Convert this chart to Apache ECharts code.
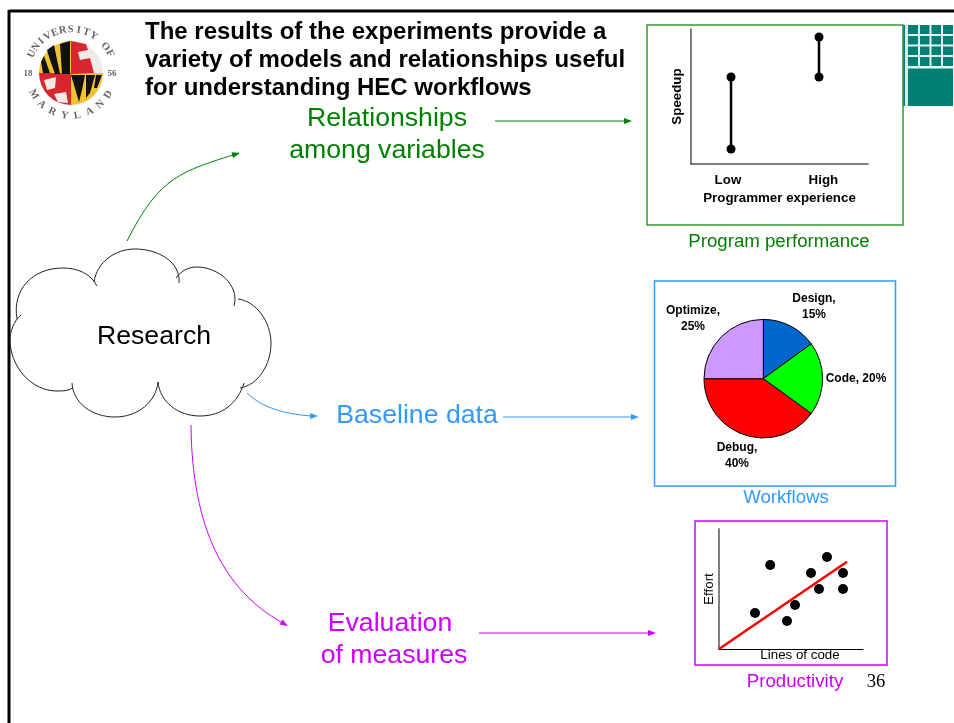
<!DOCTYPE html>
<html>
<head>
<meta charset="utf-8">
<title>Research results</title>
<script src="https://cdn.jsdelivr.net/npm/echarts@6/dist/echarts.min.js"></script>
<style>
  html, body { margin: 0; padding: 0; background: #fff; }
  #main { width: 954px; height: 723px; }
</style>
</head>
<body>
<div id="main"></div>
<script>
// speedup by programmer experience
var experienceX = [1, 2];
var experienceLabels = ['Low', 'High'];
var experienceLabelAt = [0.965, 2.05];
var lowSpeedup = [1.5, 8.7];
var highSpeedup = [8.7, 12.7];

// workflows
var workflowNames = ['Design', 'Code', 'Debug', 'Optimize'];
var workflowValues = [15, 20, 40, 25];
var workflowColors = ['#0066cc', '#00ff00', '#ff0000', '#cc99ff'];

// productivity
var linesOfCode = [4.5, 6.4, 8.5, 9.5, 11.5, 12.5, 13.5, 15.5, 15.5];
var effort = [4.5, 10.5, 3.5, 5.5, 9.5, 7.5, 11.5, 9.5, 7.5];
var trendX = [0, 16];
var trendY = [0, 10.9];

var GREEN = '#008000', BLUE = '#3399ff', PURPLE = '#cc00ff';
var SANS = '"Liberation Sans", Arial, sans-serif';
var SERIF = '"Liberation Serif", serif';

var myChart = echarts.init(document.getElementById('main'));

function text(str, x, y, size, color, opt) {
  opt = opt || {};
  return {
    type: 'text', x: x, y: y, rotation: opt.rotation || 0, z: 20,
    style: {
      text: str, fill: color, fontSize: size,
      fontFamily: opt.family || SANS, fontWeight: opt.weight || 'normal',
      align: opt.align || 'center', verticalAlign: 'middle'
    }
  };
}
function box(x1, y1, x2, y2, color) {
  return {
    type: 'rect', z: 1,
    shape: { x: x1, y: y1, width: x2 - x1, height: y2 - y1 },
    style: { fill: 'none', stroke: color, lineWidth: 1.5 }
  };
}
function fillRect(x, y, w, h, color) {
  return { type: 'rect', z: 0, shape: { x: x, y: y, width: w, height: h }, style: { fill: color } };
}
function line(x1, y1, x2, y2, color, w) {
  return { type: 'line', z: 5, shape: { x1: x1, y1: y1, x2: x2, y2: y2 }, style: { stroke: color, lineWidth: w || 1 } };
}
function curve(p, color) {
  return {
    type: 'bezierCurve', z: 5,
    shape: { x1: p[0], y1: p[1], cpx1: p[2], cpy1: p[3], cpx2: p[4], cpy2: p[5], x2: p[6], y2: p[7] },
    style: { stroke: color, lineWidth: 1, fill: 'none' }
  };
}
function head(x, y, fromX, fromY, color) {
  var a = Math.atan2(y - fromY, x - fromX), l = 8, w = 3;
  var bx = x - l * Math.cos(a), by = y - l * Math.sin(a);
  return {
    type: 'polygon', z: 6,
    shape: { points: [[x, y], [bx - w * Math.sin(a), by + w * Math.cos(a)], [bx + w * Math.sin(a), by - w * Math.cos(a)]] },
    style: { fill: color }
  };
}

var graphics = [];

// slide frame
graphics.push(line(9, 11, 954, 11, '#000', 3));
graphics.push(line(9, 10, 9, 723, '#000', 3));

// corner pattern
graphics.push(fillRect(903, 25, 50, 81, '#008075'));
graphics.push(fillRect(905, 25, 3, 81, '#d5ebe8'));
[919, 930.5, 942].forEach(function (x) {
  graphics.push(fillRect(x - 1, 25, 2, 43, '#e6f3f1'));
});
[35, 45.5, 56].forEach(function (y) {
  graphics.push(fillRect(905, y - 1, 48, 2, '#e6f3f1'));
});
graphics.push(fillRect(905, 66, 48, 2.5, '#e6f3f1'));

// logo
var lx = 71, ly = 73, lr = 32;
function quarter(start, fill) {
  return { type: 'sector', z: 2, shape: { cx: lx, cy: ly, r: lr, startAngle: start, endAngle: start + Math.PI / 2 }, style: { fill: fill } };
}
function blob(pts, fill) {
  return { type: 'polygon', z: 3, shape: { points: pts }, style: { fill: fill } };
}
graphics.push(quarter(Math.PI, '#f2c230'));
graphics.push(quarter(Math.PI * 1.5, '#eeeae8'));
graphics.push(quarter(0, '#f2c230'));
graphics.push(quarter(Math.PI / 2, '#d8262f'));
graphics.push(blob([[60, 44], [70, 41], [70, 74], [62, 74]], '#111'));
graphics.push(blob([[47, 50], [54, 45], [60, 74], [55, 74], [50, 60]], '#111'));
graphics.push(blob([[41, 62], [44, 56], [50, 73], [43, 73]], '#111'));
graphics.push(blob([[71, 75], [85, 75], [82, 90], [79, 102], [74, 85]], '#111'));
graphics.push(blob([[86, 75], [95, 75], [90, 93], [86, 98]], '#111'));
graphics.push(blob([[96, 75], [102, 75], [97, 88], [94, 88]], '#111'));
graphics.push(blob([[71, 41], [86, 44], [88, 50], [78, 52], [80, 60], [90, 58], [94, 73], [71, 74]], '#d8262f'));
graphics.push(blob([[44, 80], [56, 77], [55, 88], [47, 90]], '#f4e9e6'));
graphics.push(blob([[54, 94], [66, 92], [68, 103], [58, 102]], '#f4e9e6'));
function arcText(str, from, to, r, top) {
  str.split('').forEach(function (ch, i) {
    var a = (from + (to - from) * i / (str.length - 1)) * Math.PI / 180;
    var x = lx + r * Math.sin(a), y = ly - r * Math.cos(a);
    graphics.push(text(ch, x, y, 10.5, '#666', { family: SERIF, weight: 'bold', rotation: top ? -a : Math.PI - a }));
  });
}
arcText('UNIVERSITY OF', -64, 63, 43.5, true);
arcText('MARYLAND', -120, -240, 43, false);
graphics.push(text('18', 28, 74, 9, '#666', { family: SERIF, weight: 'bold' }));
graphics.push(text('56', 112, 74, 9, '#666', { family: SERIF, weight: 'bold' }));

// title
graphics.push(text('The results of the experiments provide a', 145, 32, 24, '#000', { weight: 'bold', align: 'left' }));
graphics.push(text('variety of models and relationships useful', 145, 60, 24, '#000', { weight: 'bold', align: 'left' }));
graphics.push(text('for understanding HEC workflows', 145, 88, 24, '#000', { weight: 'bold', align: 'left' }));

// cloud outline
[
  [17, 319, 12, 290, 32, 268, 63, 268],
  [63, 268, 78, 268, 91, 274, 97, 286],
  [94, 282, 97, 262, 115, 249, 135, 249],
  [135, 249, 158, 249, 181, 262, 179, 283],
  [176, 278, 181, 271, 188, 267, 197, 267],
  [197, 267, 218, 267, 240, 285, 234, 306],
  [238, 299, 256, 301, 271, 322, 271, 343],
  [271, 343, 271, 365, 258, 385, 240, 388],
  [244, 383, 238, 403, 222, 416, 200, 416],
  [200, 416, 178, 416, 160, 402, 158, 382],
  [158, 382, 156, 402, 138, 417, 115, 417],
  [115, 417, 92, 417, 73, 403, 72, 383],
  [73, 388, 68, 391, 62, 391, 57, 391],
  [57, 391, 30, 391, 10, 365, 10, 340],
  [10, 340, 10, 331, 14, 321, 21, 315]
].forEach(function (p) { graphics.push(curve(p, '#222')); });
graphics.push(text('Research', 154, 337, 26.67, '#000'));

// arrows
graphics.push(curve([127, 241, 160, 176, 180, 172, 239, 153], GREEN));
graphics.push(head(240, 153, 225, 157, GREEN));
graphics.push(line(495, 121, 625, 121, GREEN));
graphics.push(head(632, 121, 620, 121, GREEN));
graphics.push(curve([247, 393, 262, 408, 285, 414, 311, 416], BLUE));
graphics.push(head(318, 416, 306, 416, BLUE));
graphics.push(line(503, 417, 632, 417, BLUE));
graphics.push(head(639, 417, 628, 417, BLUE));
graphics.push(curve([191, 425, 192, 530, 225, 590, 281, 622], PURPLE));
graphics.push(head(288, 626, 276, 619, PURPLE));
graphics.push(line(479, 633, 648, 633, PURPLE));
graphics.push(head(656, 633, 644, 633, PURPLE));

// labels
graphics.push(text('Relationships', 387, 119, 26.67, GREEN));
graphics.push(text('among variables', 387, 151, 26.67, GREEN));
graphics.push(text('Baseline data', 417, 416, 26.67, BLUE));
graphics.push(text('Evaluation', 390, 624, 26.67, PURPLE));
graphics.push(text('of measures', 394, 656, 26.67, PURPLE));
graphics.push(text('Program performance', 779, 242, 18.67, GREEN));
graphics.push(text('Workflows', 786, 498, 18.67, BLUE));
graphics.push(text('Productivity', 795, 682, 18.67, PURPLE));
graphics.push(text('36', 876, 682, 18.67, '#000', { family: SERIF }));

// panels
graphics.push(box(647, 25, 903, 225, '#339933'));
graphics.push(box(654.5, 281, 895.5, 486, BLUE));
graphics.push(box(695, 521, 887, 665, PURPLE));

var option = {
  animation: false,
  backgroundColor: '#fff',
  textStyle: { fontFamily: SANS },
  graphic: { elements: graphics },
  grid: [
    { left: 691, top: 29, width: 177, height: 135 },
    { left: 719, top: 529, width: 144, height: 120 }
  ],
  xAxis: [
    {
      type: 'value', gridIndex: 0, min: 0.545, max: 2.557, splitLine: { show: false },
      name: 'Programmer experience', nameLocation: 'middle', nameGap: 28,
      nameTextStyle: { color: '#000', fontSize: 13.33, fontWeight: 'bold' },
      axisLine: { show: true, onZero: false, lineStyle: { color: '#555', width: 1.5 } },
      axisTick: { show: false },
      axisLabel: {
        customValues: experienceLabelAt, margin: 10, color: '#000', fontSize: 13.33, fontWeight: 'bold',
        showMinLabel: true, showMaxLabel: true,
        formatter: function (v) { return experienceLabels[experienceLabelAt.indexOf(v)]; }
      }
    },
    {
      type: 'value', gridIndex: 1, min: 0, max: 18, splitLine: { show: false },
      name: 'Lines of code', nameLocation: 'middle', nameGap: 0,
      nameTextStyle: { color: '#000', fontSize: 13.33, padding: [0, 0, 0, 18] },
      axisLine: { show: true, onZero: false, lineStyle: { color: '#000', width: 1 } },
      axisTick: { show: false }, axisLabel: { show: false }
    }
  ],
  yAxis: [
    {
      type: 'value', gridIndex: 0, min: 0, max: 13.5, splitLine: { show: false },
      name: 'Speedup', nameLocation: 'middle', nameGap: 7, nameRotate: 90,
      nameTextStyle: { color: '#000', fontSize: 13.33, fontWeight: 'bold' },
      axisLine: { show: true, onZero: false, lineStyle: { color: '#555', width: 1.5 } },
      axisTick: { show: false }, axisLabel: { show: false }
    },
    {
      type: 'value', gridIndex: 1, min: 0, max: 15, splitLine: { show: false },
      name: 'Effort', nameLocation: 'middle', nameGap: 3, nameRotate: 90,
      nameTextStyle: { color: '#000', fontSize: 13.33 },
      axisLine: { show: true, onZero: false, lineStyle: { color: '#808080', width: 2 } },
      axisTick: { show: false }, axisLabel: { show: false }
    }
  ],
  series: [
    {
      name: 'Low', type: 'line', xAxisIndex: 0, yAxisIndex: 0, z: 10,
      data: lowSpeedup.map(function (v) { return [experienceX[0], v]; }),
      symbol: 'circle', symbolSize: 9, showSymbol: true,
      lineStyle: { color: '#000', width: 2.5 }, itemStyle: { color: '#000' }
    },
    {
      name: 'High', type: 'line', xAxisIndex: 0, yAxisIndex: 0, z: 10,
      data: highSpeedup.map(function (v) { return [experienceX[1], v]; }),
      symbol: 'circle', symbolSize: 9, showSymbol: true,
      lineStyle: { color: '#000', width: 2.5 }, itemStyle: { color: '#000' }
    },
    {
      type: 'pie', center: [763.3, 378.7], radius: 59.3, startAngle: 90, clockwise: true, z: 10,
      data: workflowNames.map(function (n, i) {
        return { name: n, value: workflowValues[i], itemStyle: { color: workflowColors[i] } };
      }),
      itemStyle: { borderColor: '#000', borderWidth: 1 },
      label: {
        show: true, position: 'outside', color: '#000', fontSize: 12, fontWeight: 'bold', lineHeight: 16,
        formatter: function (p) {
          return p.name === 'Code' ? p.name + ', ' + p.value + '%' : p.name + ',\n' + p.value + '%';
        }
      },
      labelLine: { show: false },
      labelLayout: function (p) {
        var at = { 0: [814, 307], 1: [856, 379], 2: [737, 456], 3: [693, 319] }[p.dataIndex];
        return { x: at[0], y: at[1], align: 'center', verticalAlign: 'middle' };
      }
    },
    {
      name: 'Projects', type: 'scatter', xAxisIndex: 1, yAxisIndex: 1, z: 10,
      data: linesOfCode.map(function (x, i) { return [x, effort[i]]; }),
      symbolSize: 10, itemStyle: { color: '#000', opacity: 1 }
    },
    {
      name: 'Trend', type: 'line', xAxisIndex: 1, yAxisIndex: 1, z: 11,
      data: trendX.map(function (x, i) { return [x, trendY[i]]; }),
      showSymbol: false, symbol: 'none',
      lineStyle: { color: '#ff0000', width: 2.5 }
    }
  ]
};
myChart.setOption(option);
</script>
</body>
</html>
